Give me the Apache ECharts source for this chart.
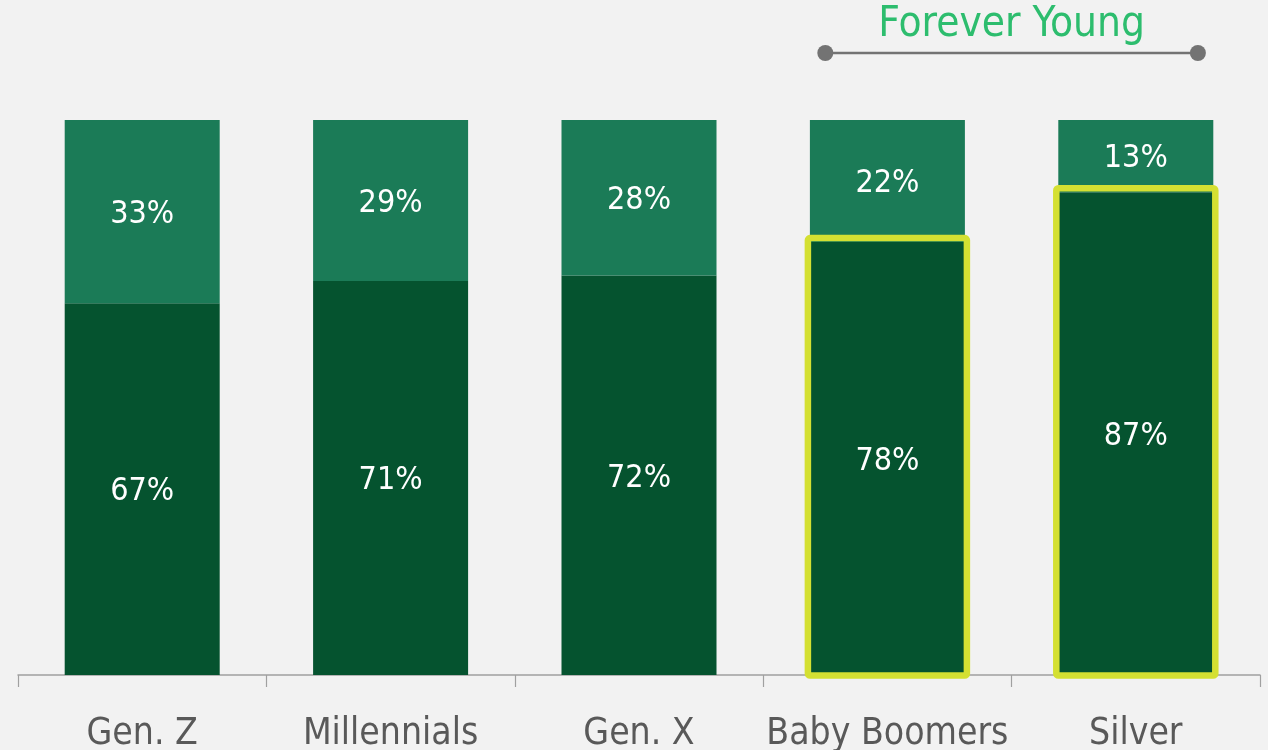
<!DOCTYPE html>
<html>
<head>
<meta charset="utf-8">
<script src="https://cdn.jsdelivr.net/npm/echarts@6/dist/echarts.min.js"></script>
<style>
html,body{margin:0;padding:0;background:#f2f2f2;}
#c{width:1268px;height:750px;}
</style>
</head>
<body>
<div id="c"></div>
<script>
var categories = ['Gen. Z', 'Millennials', 'Gen. X', 'Baby Boomers', 'Silver'];
var darkValues = [67, 71, 72, 78, 87];
var lightValues = [33, 29, 28, 22, 13];
var highlighted = [3, 4];
var annotationText = 'Forever Young';

var FONT = '"DejaVu Sans Condensed", "DejaVu Sans", sans-serif';
var chart = echarts.init(document.getElementById('c'));

var highlightData = highlighted.map(function (i) { return [i, darkValues[i]]; });

var valueLabel = { show: true, position: 'inside', color: '#ffffff', fontSize: 32, fontFamily: FONT, formatter: '{c}%', offset: [0, 3] };

var option = {
  backgroundColor: '#f2f2f2',
  animation: false,
  grid: { left: 18, right: 8, top: 120, bottom: 75, containLabel: false, outerBoundsMode: 'none' },
  xAxis: {
    type: 'category',
    data: categories,
    axisLine: { lineStyle: { color: '#a0a0a0', width: 1.5 } },
    axisTick: { show: true, interval: 0, length: 12, lineStyle: { color: '#a0a0a0', width: 1.2 } },
    axisLabel: { interval: 0, color: '#595959', fontSize: 37, fontFamily: FONT, margin: 41 }
  },
  yAxis: { type: 'value', min: 0, max: 100, show: false, splitLine: { show: false } },
  series: [
    {
      type: 'bar', stack: 's', data: darkValues, barWidth: 155,
      itemStyle: { color: '#05532f' },
      label: valueLabel
    },
    {
      type: 'bar', stack: 's', data: lightValues, barWidth: 155,
      itemStyle: { color: '#1b7b57' },
      label: valueLabel
    },
    {
      type: 'custom', data: highlightData, z: 10,
      renderItem: function (params, api) {
        var idx = api.value(0);
        var top = api.coord([idx, api.value(1)]);
        var bottom = api.coord([idx, 0]);
        var half = 79.5;
        return {
          type: 'rect',
          shape: { x: top[0] - half, y: top[1] - 4, width: half * 2, height: bottom[1] - top[1] + 4.5, r: 2 },
          style: { fill: 'none', stroke: '#d4e032', lineWidth: 6.5, lineJoin: 'round' }
        };
      }
    }
  ]
};
chart.setOption(option);

var p1 = chart.convertToPixel({ xAxisIndex: 0 }, categories[highlighted[0]]);
var p2 = chart.convertToPixel({ xAxisIndex: 0 }, categories[highlighted[1]]);
var mid = (p1 + p2) / 2;
var span = (p2 - p1) * 0.75;
var x1 = mid - span, x2 = mid + span, ly = 53;
chart.setOption({
  graphic: [
    { type: 'line', shape: { x1: x1, y1: ly, x2: x2, y2: ly }, style: { stroke: '#737373', lineWidth: 2.5 } },
    { type: 'circle', shape: { cx: x1, cy: ly, r: 8 }, style: { fill: '#737373' } },
    { type: 'circle', shape: { cx: x2, cy: ly, r: 8 }, style: { fill: '#737373' } },
    { type: 'text', x: mid, y: 25, style: { text: annotationText, fill: '#2dbd6e', fontSize: 42, fontFamily: FONT, align: 'center', verticalAlign: 'middle' } }
  ]
});
</script>
</body>
</html>
